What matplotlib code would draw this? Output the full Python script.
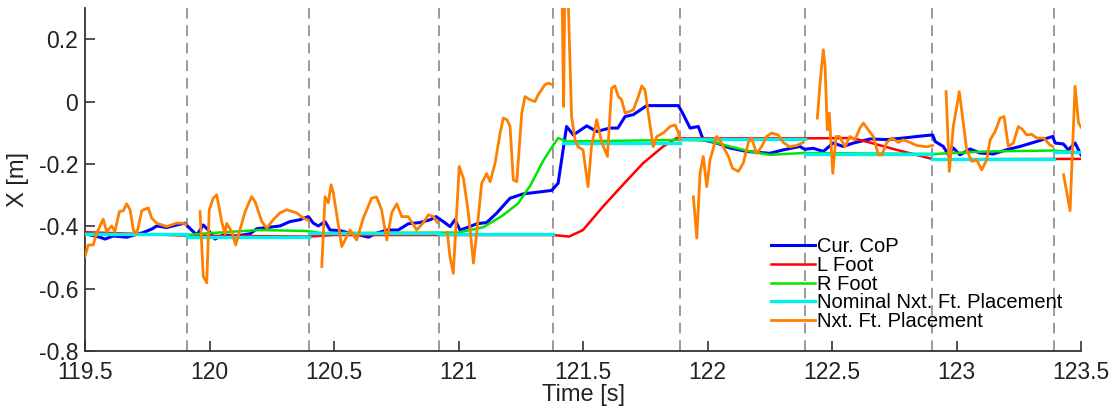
import numpy as np
import matplotlib.pyplot as plt

plt.rcParams['font.family'] = ['Liberation Sans', 'DejaVu Sans']

# step switch times (dashed lines)
step_times = [119.91, 120.40, 120.92, 121.38, 121.89, 122.39, 122.90, 123.39]

# current CoP
cop_t = [119.500, 119.560, 119.580, 119.614, 119.667, 119.734, 119.768, 119.788, 119.828, 119.868,
         119.900, 119.928, 119.949, 119.975, 119.995, 120.022, 120.055, 120.110, 120.163, 120.190,
         120.230, 120.283, 120.323, 120.363, 120.397, 120.417, 120.437, 120.464, 120.484, 120.524,
         120.564, 120.604, 120.638, 120.671, 120.712, 120.758, 120.798, 120.845, 120.886, 120.910,
         120.939, 120.966, 120.986, 121.006, 121.046, 121.073, 121.113, 121.153, 121.207, 121.260,
         121.314, 121.374, 121.400, 121.420, 121.434, 121.461, 121.515, 121.555, 121.608, 121.640,
         121.669, 121.702, 121.756, 121.822, 121.883, 121.900, 121.930, 121.963, 121.983, 122.037,
         122.090, 122.157, 122.250, 122.304, 122.371, 122.390, 122.425, 122.465, 122.505, 122.545,
         122.586, 122.653, 122.720, 122.786, 122.853, 122.904, 122.914, 122.947, 122.967, 122.987,
         123.014, 123.054, 123.094, 123.148, 123.200, 123.255, 123.322, 123.386, 123.396, 123.429,
         123.449, 123.476, 123.500]
cop_x = [-0.424, -0.435, -0.441, -0.431, -0.435, -0.420, -0.409, -0.399, -0.404, -0.396,
         -0.390, -0.412, -0.428, -0.396, -0.412, -0.441, -0.428, -0.431, -0.424, -0.408,
         -0.404, -0.399, -0.385, -0.379, -0.369, -0.390, -0.399, -0.385, -0.412, -0.414,
         -0.422, -0.428, -0.435, -0.422, -0.412, -0.412, -0.392, -0.388, -0.379, -0.369,
         -0.385, -0.401, -0.379, -0.412, -0.401, -0.392, -0.388, -0.358, -0.310, -0.296,
         -0.291, -0.285, -0.262, -0.155, -0.080, -0.107, -0.078, -0.096, -0.085, -0.085,
         -0.048, -0.042, -0.013, -0.013, -0.013, -0.037, -0.085, -0.080, -0.123, -0.133,
         -0.149, -0.160, -0.166, -0.155, -0.144, -0.153, -0.150, -0.160, -0.133, -0.144,
         -0.133, -0.120, -0.122, -0.117, -0.111, -0.107, -0.128, -0.144, -0.171, -0.149,
         -0.171, -0.152, -0.165, -0.168, -0.155, -0.144, -0.128, -0.112, -0.133, -0.136,
         -0.155, -0.133, -0.171]

# left foot
lfoot_t = [119.50, 119.70, 119.91, 120.40, 120.50, 121.38, 121.444, 121.50, 121.58, 121.66,
           121.742, 121.822, 121.876, 121.90, 122.39, 122.58, 122.65, 122.76, 122.907, 123.50]
lfoot_x = [-0.419, -0.424, -0.430, -0.433, -0.428, -0.428, -0.433, -0.412, -0.337, -0.267,
           -0.197, -0.144, -0.117, -0.118, -0.118, -0.117, -0.131, -0.155, -0.185, -0.184]

# right foot
rfoot_t = [119.50, 119.91, 120.00, 120.20, 120.39, 120.45, 121.00, 121.10, 121.18, 121.24,
           121.29, 121.34, 121.38, 121.40, 121.434, 121.89, 122.00, 122.09, 122.17, 122.25,
           122.385, 122.91, 123.12, 123.387, 123.50]
rfoot_x = [-0.424, -0.428, -0.422, -0.412, -0.415, -0.422, -0.420, -0.403, -0.364, -0.326,
           -0.267, -0.190, -0.140, -0.117, -0.128, -0.123, -0.125, -0.144, -0.160, -0.171,
           -0.165, -0.168, -0.160, -0.157, -0.163]

# nominal next foot placement (one level per step)
nom_start = [119.50, 119.91, 120.40, 120.92, 121.42, 121.89, 122.39, 122.90, 123.39]
nom_end = [119.91, 120.40, 120.92, 121.38, 121.89, 122.39, 122.90, 123.39, 123.50]
nom_x = [-0.424, -0.435, -0.420, -0.425, -0.133, -0.120, -0.169, -0.184, -0.163]

# next foot placement, one piece per step
nxt_t = [
    [119.500, 119.513, 119.533, 119.547, 119.573, 119.587, 119.607, 119.620, 119.638, 119.654,
     119.667, 119.681, 119.694, 119.708, 119.728, 119.741, 119.754, 119.768, 119.788, 119.828,
     119.868, 119.895, 119.905],
    [119.962, 119.975, 119.989, 119.999, 120.015, 120.029, 120.049, 120.062, 120.069, 120.089,
     120.105, 120.122, 120.143, 120.169, 120.183, 120.210, 120.230, 120.256, 120.283, 120.310,
     120.350, 120.377, 120.397],
    [120.451, 120.464, 120.477, 120.488, 120.497, 120.531, 120.564, 120.591, 120.618, 120.651,
     120.671, 120.691, 120.712, 120.732, 120.752, 120.772, 120.798, 120.832, 120.859, 120.879,
     120.899, 120.915],
    [120.955, 120.966, 120.979, 121.003, 121.020, 121.040, 121.060, 121.073, 121.093, 121.113,
     121.127, 121.147, 121.167, 121.180, 121.194, 121.207, 121.220, 121.234, 121.254, 121.267,
     121.287, 121.307, 121.320, 121.347, 121.360, 121.378],
    [121.414, 121.422, 121.428, 121.436, 121.454, 121.468, 121.480, 121.500, 121.520, 121.534,
     121.555, 121.575, 121.598, 121.615, 121.628, 121.642, 121.655, 121.669, 121.702, 121.722,
     121.736, 121.749, 121.762, 121.782, 121.796, 121.822, 121.850, 121.870, 121.883, 121.890],
    [121.943, 121.957, 121.970, 121.983, 121.997, 122.010, 122.037, 122.050, 122.063, 122.084,
     122.100, 122.124, 122.144, 122.164, 122.177, 122.197, 122.217, 122.237, 122.257, 122.284,
     122.304, 122.330, 122.357, 122.385],
    [122.441, 122.452, 122.465, 122.472, 122.481, 122.489, 122.503, 122.516, 122.530, 122.552,
     122.572, 122.592, 122.612, 122.626, 122.646, 122.666, 122.686, 122.700, 122.720, 122.740,
     122.766, 122.786, 122.813, 122.840, 122.880, 122.904],
    [122.958, 122.971, 122.987, 123.001, 123.011, 123.027, 123.041, 123.061, 123.081, 123.101,
     123.121, 123.135, 123.155, 123.175, 123.191, 123.208, 123.228, 123.248, 123.265, 123.282,
     123.302, 123.322, 123.350, 123.375, 123.386],
    [123.430, 123.456, 123.476, 123.490, 123.500],
]
nxt_x = [
    [-0.497, -0.460, -0.460, -0.422, -0.377, -0.417, -0.399, -0.417, -0.353, -0.350,
     -0.328, -0.347, -0.412, -0.424, -0.350, -0.345, -0.341, -0.374, -0.390, -0.401,
     -0.390, -0.390, -0.395],
    [-0.353, -0.561, -0.581, -0.347, -0.310, -0.299, -0.385, -0.424, -0.391, -0.417,
     -0.460, -0.412, -0.353, -0.305, -0.321, -0.385, -0.406, -0.379, -0.357, -0.347,
     -0.357, -0.374, -0.381],
    [-0.529, -0.305, -0.325, -0.267, -0.292, -0.465, -0.412, -0.444, -0.373, -0.310,
     -0.306, -0.347, -0.444, -0.356, -0.328, -0.369, -0.369, -0.412, -0.388, -0.363,
     -0.369, -0.388],
    [-0.420, -0.500, -0.551, -0.208, -0.247, -0.360, -0.518, -0.422, -0.262, -0.231,
     -0.257, -0.197, -0.101, -0.053, -0.058, -0.080, -0.251, -0.257, -0.037, 0.016,
     0.006, 0.000, 0.022, 0.054, 0.059, 0.054],
    [0.45, -0.016, 0.45, 0.45, -0.048, -0.123, -0.145, -0.155, -0.273, -0.145,
     -0.058, -0.131, -0.176, 0.043, 0.050, 0.016, 0.006, -0.037, -0.027, 0.016,
     0.050, 0.037, -0.037, -0.145, -0.112, -0.101, -0.080, -0.075, -0.101, -0.123],
    [-0.305, -0.438, -0.230, -0.176, -0.273, -0.187, -0.112, -0.123, -0.145, -0.176,
     -0.214, -0.224, -0.197, -0.131, -0.117, -0.166, -0.145, -0.112, -0.101, -0.107,
     -0.131, -0.145, -0.141, -0.131],
    [-0.053, 0.059, 0.166, 0.113, -0.091, -0.037, -0.230, -0.112, -0.112, -0.145,
     -0.112, -0.123, -0.085, -0.069, -0.091, -0.112, -0.171, -0.171, -0.131, -0.117,
     -0.131, -0.123, -0.131, -0.141, -0.145, -0.141],
    [0.032, -0.224, -0.080, -0.016, 0.032, -0.069, -0.155, -0.192, -0.187, -0.219,
     -0.187, -0.123, -0.096, -0.053, -0.048, -0.144, -0.133, -0.080, -0.090, -0.107,
     -0.105, -0.117, -0.117, -0.139, -0.144],
    [-0.235, -0.350, 0.049, -0.069, -0.082],
]

xticks = [119.5, 120, 120.5, 121, 121.5, 122, 122.5, 123, 123.5]
xticklabels = ['119.5', '120', '120.5', '121', '121.5', '122', '122.5', '123', '123.5']
yticks = [-0.8, -0.6, -0.4, -0.2, 0, 0.2]
yticklabels = ['-0.8', '-0.6', '-0.4', '-0.2', '0', '0.2']


def join_pieces(ts, xs):
    # glue the pieces together with NaN gaps so each step is drawn apart
    tt, xx = [], []
    for t, x in zip(ts, xs):
        tt += list(t) + [np.nan]
        xx += list(x) + [np.nan]
    return tt, xx


fig = plt.figure(figsize=(11.17, 4.09), dpi=100)
ax = fig.add_axes([0.0761, 0.1418, 0.8917, 0.8386])

for st in step_times:
    ax.axvline(st, color='#9a9a9a', lw=1.4, ls=(0, (5.5, 3.5)), zorder=1)

ax.plot(cop_t, cop_x, color='#0000ff', lw=2.2, label='Cur. CoP', zorder=3)
ax.plot(lfoot_t, lfoot_x, color='#ff0000', lw=1.8, label='L Foot', zorder=3)
ax.plot(rfoot_t, rfoot_x, color='#00e600', lw=1.8, label='R Foot', zorder=3)
nt, nx = join_pieces([[a, b] for a, b in zip(nom_start, nom_end)], [[v, v] for v in nom_x])
ax.plot(nt, nx, color='#00f0f0', lw=2.4, label='Nominal Nxt. Ft. Placement', zorder=3)
ot, ox = join_pieces(nxt_t, nxt_x)
ax.plot(ot, ox, color='#ff8000', lw=2.0, label='Nxt. Ft. Placement', zorder=4)

ax.set_xlim(119.5, 123.5)
ax.set_ylim(-0.8, 0.3)
ax.set_xticks(xticks)
ax.set_xticklabels(xticklabels)
ax.set_yticks(yticks)
ax.set_yticklabels(yticklabels)
ax.tick_params(direction='in', length=7, width=1.2, colors='#333333',
               labelcolor='#222222', labelsize=16.5)
ax.tick_params(axis='x', pad=7)
ax.tick_params(axis='y', pad=5)
for s in ['top', 'right']:
    ax.spines[s].set_visible(False)
for s in ['left', 'bottom']:
    ax.spines[s].set_color('#333333')
    ax.spines[s].set_linewidth(1.3)

ax.set_xlabel('Time [s]', fontsize=17, color='#222222', labelpad=0)
ax.set_ylabel('X [m]', fontsize=17, color='#222222', labelpad=7)

ax.legend(loc='lower left', bbox_to_anchor=(0.690, 0.191), bbox_transform=fig.transFigure,
          frameon=False, fontsize=14.5, handlelength=2.2, handletextpad=0.1,
          labelspacing=-0.02, borderpad=0, borderaxespad=0)

fig.savefig('out.png', dpi=100)
